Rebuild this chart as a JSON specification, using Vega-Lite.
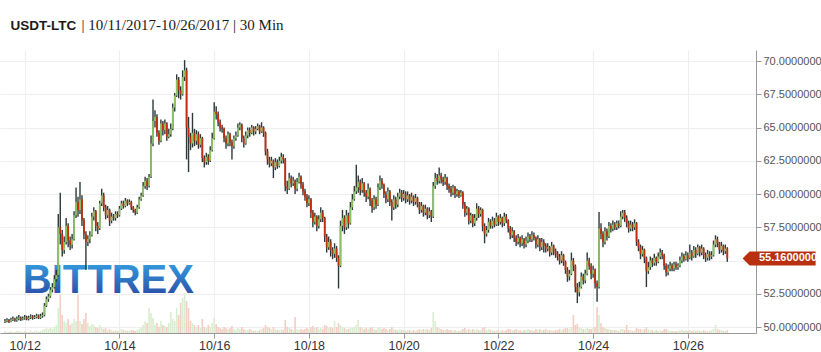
{
"$schema":"https://vega.github.io/schema/vega-lite/v6.json",
"width":756,"height":283,
"autosize":"none",
"padding":{"left":0,"top":50,"right":65,"bottom":19},
"background":"#ffffff",
"config":{"view":{"stroke":null},"axis":{"labelFont":"Liberation Sans","titleFont":"Liberation Sans"}},
"datasets":{"k":[
{"t":"2017-10-11 14:00","o":50.4,"h":50.6,"l":50.3,"c":50.45,"v":2},
{"t":"2017-10-11 15:00","o":50.45,"h":50.65,"l":50.35,"c":50.5,"v":1},
{"t":"2017-10-11 16:00","o":50.5,"h":50.6,"l":50.3,"c":50.42,"v":1},
{"t":"2017-10-11 17:00","o":50.42,"h":50.7,"l":50.35,"c":50.55,"v":2},
{"t":"2017-10-11 18:00","o":50.55,"h":50.8,"l":50.45,"c":50.6,"v":1},
{"t":"2017-10-11 19:00","o":50.6,"h":50.7,"l":50.4,"c":50.5,"v":1},
{"t":"2017-10-11 20:00","o":50.5,"h":50.8,"l":50.4,"c":50.62,"v":2},
{"t":"2017-10-11 21:00","o":50.62,"h":50.9,"l":50.5,"c":50.7,"v":2},
{"t":"2017-10-11 22:00","o":50.7,"h":50.8,"l":50.45,"c":50.58,"v":1},
{"t":"2017-10-11 23:00","o":50.58,"h":50.8,"l":50.5,"c":50.65,"v":1},
{"t":"2017-10-12 00:00","o":50.65,"h":50.9,"l":50.55,"c":50.72,"v":2},
{"t":"2017-10-12 01:00","o":50.72,"h":50.85,"l":50.5,"c":50.6,"v":1},
{"t":"2017-10-12 02:00","o":50.6,"h":50.85,"l":50.5,"c":50.7,"v":1},
{"t":"2017-10-12 03:00","o":50.7,"h":50.95,"l":50.6,"c":50.78,"v":2},
{"t":"2017-10-12 04:00","o":50.78,"h":50.9,"l":50.55,"c":50.68,"v":1},
{"t":"2017-10-12 05:00","o":50.68,"h":50.9,"l":50.6,"c":50.75,"v":2},
{"t":"2017-10-12 06:00","o":50.75,"h":51.0,"l":50.65,"c":50.85,"v":2},
{"t":"2017-10-12 07:00","o":50.85,"h":50.95,"l":50.6,"c":50.7,"v":1},
{"t":"2017-10-12 08:00","o":50.7,"h":51.0,"l":50.6,"c":50.82,"v":2},
{"t":"2017-10-12 09:00","o":50.82,"h":51.1,"l":50.7,"c":50.9,"v":3},
{"t":"2017-10-12 10:00","o":50.9,"h":51.8,"l":50.8,"c":51.6,"v":4},
{"t":"2017-10-12 11:00","o":51.6,"h":52.3,"l":51.5,"c":52.1,"v":5},
{"t":"2017-10-12 12:00","o":52.1,"h":52.5,"l":51.9,"c":52.3,"v":4},
{"t":"2017-10-12 13:00","o":52.3,"h":53.0,"l":52.2,"c":52.8,"v":5},
{"t":"2017-10-12 14:00","o":52.8,"h":53.3,"l":52.6,"c":53.0,"v":4},
{"t":"2017-10-12 15:00","o":53.0,"h":53.9,"l":52.9,"c":53.6,"v":6},
{"t":"2017-10-12 16:00","o":53.6,"h":54.3,"l":53.4,"c":53.9,"v":8},
{"t":"2017-10-12 17:00","o":53.9,"h":58.5,"l":53.8,"c":57.5,"v":25},
{"t":"2017-10-12 18:00","o":57.5,"h":60.1,"l":56.2,"c":57.0,"v":38},
{"t":"2017-10-12 19:00","o":57.0,"h":57.3,"l":55.3,"c":55.8,"v":18},
{"t":"2017-10-12 20:00","o":55.8,"h":56.8,"l":55.5,"c":56.4,"v":12},
{"t":"2017-10-12 21:00","o":56.4,"h":58.2,"l":56.2,"c":57.6,"v":10},
{"t":"2017-10-12 22:00","o":57.6,"h":57.8,"l":56.0,"c":56.5,"v":14},
{"t":"2017-10-12 23:00","o":56.5,"h":56.8,"l":55.8,"c":56.2,"v":8},
{"t":"2017-10-13 00:00","o":56.2,"h":57.0,"l":55.9,"c":56.6,"v":10},
{"t":"2017-10-13 01:00","o":56.6,"h":58.7,"l":56.5,"c":58.4,"v":14},
{"t":"2017-10-13 02:00","o":58.4,"h":60.5,"l":58.2,"c":59.4,"v":12},
{"t":"2017-10-13 03:00","o":59.4,"h":59.8,"l":58.3,"c":58.8,"v":38},
{"t":"2017-10-13 04:00","o":58.8,"h":60.9,"l":58.5,"c":59.6,"v":12},
{"t":"2017-10-13 05:00","o":59.6,"h":59.9,"l":57.6,"c":58.0,"v":9},
{"t":"2017-10-13 06:00","o":58.0,"h":58.2,"l":56.6,"c":57.0,"v":14},
{"t":"2017-10-13 07:00","o":57.0,"h":57.2,"l":54.3,"c":56.4,"v":20},
{"t":"2017-10-13 08:00","o":56.4,"h":56.9,"l":56.1,"c":56.6,"v":10},
{"t":"2017-10-13 09:00","o":56.6,"h":57.2,"l":56.3,"c":56.9,"v":7},
{"t":"2017-10-13 10:00","o":56.9,"h":58.6,"l":56.8,"c":58.3,"v":9},
{"t":"2017-10-13 11:00","o":58.3,"h":59.0,"l":58.0,"c":58.7,"v":8},
{"t":"2017-10-13 12:00","o":58.7,"h":58.8,"l":57.2,"c":57.6,"v":6},
{"t":"2017-10-13 13:00","o":57.6,"h":57.9,"l":57.0,"c":57.4,"v":5},
{"t":"2017-10-13 14:00","o":57.4,"h":59.5,"l":57.3,"c":59.3,"v":8},
{"t":"2017-10-13 15:00","o":59.3,"h":60.4,"l":59.1,"c":59.9,"v":6},
{"t":"2017-10-13 16:00","o":59.9,"h":60.1,"l":58.7,"c":59.0,"v":4},
{"t":"2017-10-13 17:00","o":59.0,"h":59.2,"l":58.1,"c":58.4,"v":5},
{"t":"2017-10-13 18:00","o":58.4,"h":59.1,"l":58.2,"c":58.8,"v":3},
{"t":"2017-10-13 19:00","o":58.8,"h":58.9,"l":57.6,"c":58.0,"v":4},
{"t":"2017-10-13 20:00","o":58.0,"h":58.6,"l":57.8,"c":58.3,"v":3},
{"t":"2017-10-13 21:00","o":58.3,"h":58.5,"l":58.0,"c":58.2,"v":2},
{"t":"2017-10-13 22:00","o":58.2,"h":58.7,"l":58.0,"c":58.5,"v":3},
{"t":"2017-10-13 23:00","o":58.5,"h":58.7,"l":58.2,"c":58.4,"v":2},
{"t":"2017-10-14 00:00","o":58.4,"h":59.1,"l":58.3,"c":58.9,"v":3},
{"t":"2017-10-14 01:00","o":58.9,"h":59.5,"l":58.8,"c":59.3,"v":4},
{"t":"2017-10-14 02:00","o":59.3,"h":59.5,"l":58.9,"c":59.1,"v":3},
{"t":"2017-10-14 03:00","o":59.1,"h":59.7,"l":59.0,"c":59.5,"v":3},
{"t":"2017-10-14 04:00","o":59.5,"h":59.6,"l":59.1,"c":59.3,"v":2},
{"t":"2017-10-14 05:00","o":59.3,"h":59.6,"l":59.2,"c":59.4,"v":2},
{"t":"2017-10-14 06:00","o":59.4,"h":59.5,"l":58.8,"c":59.0,"v":3},
{"t":"2017-10-14 07:00","o":59.0,"h":59.1,"l":58.6,"c":58.8,"v":3},
{"t":"2017-10-14 08:00","o":58.8,"h":58.9,"l":58.4,"c":58.6,"v":2},
{"t":"2017-10-14 09:00","o":58.6,"h":59.2,"l":58.5,"c":59.0,"v":3},
{"t":"2017-10-14 10:00","o":59.0,"h":59.8,"l":58.9,"c":59.6,"v":4},
{"t":"2017-10-14 11:00","o":59.6,"h":60.1,"l":59.5,"c":59.9,"v":5},
{"t":"2017-10-14 12:00","o":59.9,"h":60.9,"l":59.8,"c":60.6,"v":8},
{"t":"2017-10-14 13:00","o":60.6,"h":61.3,"l":60.4,"c":61.0,"v":12},
{"t":"2017-10-14 14:00","o":61.0,"h":61.2,"l":60.3,"c":60.6,"v":10},
{"t":"2017-10-14 15:00","o":60.6,"h":61.5,"l":60.5,"c":61.3,"v":25},
{"t":"2017-10-14 16:00","o":61.3,"h":64.4,"l":61.2,"c":63.8,"v":20},
{"t":"2017-10-14 17:00","o":63.8,"h":67.1,"l":63.6,"c":65.5,"v":15},
{"t":"2017-10-14 18:00","o":65.5,"h":66.3,"l":65.0,"c":65.8,"v":8},
{"t":"2017-10-14 19:00","o":65.8,"h":66.0,"l":64.3,"c":64.6,"v":10},
{"t":"2017-10-14 20:00","o":64.6,"h":64.8,"l":63.7,"c":64.0,"v":6},
{"t":"2017-10-14 21:00","o":64.0,"h":65.6,"l":63.9,"c":65.3,"v":12},
{"t":"2017-10-14 22:00","o":65.3,"h":65.5,"l":64.4,"c":64.8,"v":8},
{"t":"2017-10-14 23:00","o":64.8,"h":65.6,"l":64.5,"c":65.3,"v":7},
{"t":"2017-10-15 00:00","o":65.3,"h":65.4,"l":64.0,"c":64.3,"v":6},
{"t":"2017-10-15 01:00","o":64.3,"h":64.9,"l":64.2,"c":64.5,"v":10},
{"t":"2017-10-15 02:00","o":64.5,"h":65.3,"l":64.3,"c":64.9,"v":21},
{"t":"2017-10-15 03:00","o":64.9,"h":66.8,"l":64.8,"c":66.5,"v":14},
{"t":"2017-10-15 04:00","o":66.5,"h":67.6,"l":66.2,"c":67.4,"v":12},
{"t":"2017-10-15 05:00","o":67.4,"h":69.0,"l":67.3,"c":68.6,"v":25},
{"t":"2017-10-15 06:00","o":68.6,"h":68.8,"l":67.2,"c":67.8,"v":18},
{"t":"2017-10-15 07:00","o":67.8,"h":68.1,"l":67.1,"c":67.5,"v":30},
{"t":"2017-10-15 08:00","o":67.5,"h":69.3,"l":67.4,"c":68.8,"v":35},
{"t":"2017-10-15 09:00","o":68.8,"h":70.07,"l":68.5,"c":69.3,"v":40},
{"t":"2017-10-15 10:00","o":69.3,"h":69.5,"l":62.6,"c":65.0,"v":32},
{"t":"2017-10-15 11:00","o":65.0,"h":65.8,"l":61.65,"c":64.3,"v":25},
{"t":"2017-10-15 12:00","o":64.3,"h":64.6,"l":63.3,"c":63.8,"v":12},
{"t":"2017-10-15 13:00","o":63.8,"h":66.1,"l":63.5,"c":64.6,"v":10},
{"t":"2017-10-15 14:00","o":64.6,"h":64.9,"l":63.6,"c":64.0,"v":8},
{"t":"2017-10-15 15:00","o":64.0,"h":64.8,"l":63.7,"c":64.5,"v":6},
{"t":"2017-10-15 16:00","o":64.5,"h":64.7,"l":63.4,"c":63.7,"v":8},
{"t":"2017-10-15 17:00","o":63.7,"h":64.5,"l":63.5,"c":64.2,"v":5},
{"t":"2017-10-15 18:00","o":64.2,"h":64.3,"l":62.4,"c":62.7,"v":14},
{"t":"2017-10-15 19:00","o":62.7,"h":62.9,"l":62.0,"c":62.4,"v":6},
{"t":"2017-10-15 20:00","o":62.4,"h":63.1,"l":62.2,"c":62.8,"v":5},
{"t":"2017-10-15 21:00","o":62.8,"h":63.0,"l":62.2,"c":62.5,"v":8},
{"t":"2017-10-15 22:00","o":62.5,"h":63.6,"l":62.4,"c":63.3,"v":6},
{"t":"2017-10-15 23:00","o":63.3,"h":64.6,"l":63.2,"c":64.2,"v":10},
{"t":"2017-10-16 00:00","o":64.2,"h":66.9,"l":64.1,"c":66.2,"v":15},
{"t":"2017-10-16 01:00","o":66.2,"h":66.6,"l":65.6,"c":66.0,"v":9},
{"t":"2017-10-16 02:00","o":66.0,"h":66.2,"l":65.1,"c":65.4,"v":6},
{"t":"2017-10-16 03:00","o":65.4,"h":65.6,"l":64.7,"c":65.0,"v":5},
{"t":"2017-10-16 04:00","o":65.0,"h":65.2,"l":64.6,"c":64.9,"v":4},
{"t":"2017-10-16 05:00","o":64.9,"h":65.0,"l":63.9,"c":64.2,"v":6},
{"t":"2017-10-16 06:00","o":64.2,"h":64.4,"l":63.4,"c":63.8,"v":5},
{"t":"2017-10-16 07:00","o":63.8,"h":64.7,"l":63.6,"c":64.5,"v":4},
{"t":"2017-10-16 08:00","o":64.5,"h":64.6,"l":63.6,"c":63.9,"v":5},
{"t":"2017-10-16 09:00","o":63.9,"h":64.1,"l":62.6,"c":63.6,"v":7},
{"t":"2017-10-16 10:00","o":63.6,"h":64.4,"l":63.4,"c":64.2,"v":4},
{"t":"2017-10-16 11:00","o":64.2,"h":64.7,"l":64.0,"c":64.4,"v":3},
{"t":"2017-10-16 12:00","o":64.4,"h":65.3,"l":64.3,"c":65.0,"v":5},
{"t":"2017-10-16 13:00","o":65.0,"h":65.4,"l":64.8,"c":65.2,"v":4},
{"t":"2017-10-16 14:00","o":65.2,"h":65.3,"l":63.9,"c":64.2,"v":6},
{"t":"2017-10-16 15:00","o":64.2,"h":64.4,"l":63.5,"c":63.8,"v":4},
{"t":"2017-10-16 16:00","o":63.8,"h":64.7,"l":63.7,"c":64.4,"v":3},
{"t":"2017-10-16 17:00","o":64.4,"h":65.0,"l":64.2,"c":64.8,"v":3},
{"t":"2017-10-16 18:00","o":64.8,"h":65.0,"l":64.3,"c":64.6,"v":4},
{"t":"2017-10-16 19:00","o":64.6,"h":65.2,"l":64.5,"c":65.0,"v":3},
{"t":"2017-10-16 20:00","o":65.0,"h":65.1,"l":64.4,"c":64.7,"v":2},
{"t":"2017-10-16 21:00","o":64.7,"h":65.1,"l":64.5,"c":64.9,"v":3},
{"t":"2017-10-16 22:00","o":64.9,"h":65.3,"l":64.8,"c":65.1,"v":2},
{"t":"2017-10-16 23:00","o":65.1,"h":65.2,"l":64.5,"c":64.7,"v":3},
{"t":"2017-10-17 00:00","o":64.7,"h":65.4,"l":64.6,"c":65.0,"v":4},
{"t":"2017-10-17 01:00","o":65.0,"h":65.1,"l":64.3,"c":64.6,"v":5},
{"t":"2017-10-17 02:00","o":64.6,"h":64.7,"l":62.9,"c":63.2,"v":8},
{"t":"2017-10-17 03:00","o":63.2,"h":63.4,"l":62.2,"c":62.6,"v":6},
{"t":"2017-10-17 04:00","o":62.6,"h":62.8,"l":62.0,"c":62.3,"v":5},
{"t":"2017-10-17 05:00","o":62.3,"h":62.8,"l":62.1,"c":62.5,"v":4},
{"t":"2017-10-17 06:00","o":62.5,"h":62.6,"l":61.2,"c":62.0,"v":6},
{"t":"2017-10-17 07:00","o":62.0,"h":62.7,"l":61.8,"c":62.4,"v":4},
{"t":"2017-10-17 08:00","o":62.4,"h":62.6,"l":61.9,"c":62.1,"v":3},
{"t":"2017-10-17 09:00","o":62.1,"h":62.8,"l":62.0,"c":62.5,"v":3},
{"t":"2017-10-17 10:00","o":62.5,"h":63.1,"l":62.3,"c":62.8,"v":4},
{"t":"2017-10-17 11:00","o":62.8,"h":63.0,"l":62.3,"c":62.6,"v":3},
{"t":"2017-10-17 12:00","o":62.6,"h":62.7,"l":60.2,"c":60.6,"v":13},
{"t":"2017-10-17 13:00","o":60.6,"h":61.0,"l":60.0,"c":60.4,"v":6},
{"t":"2017-10-17 14:00","o":60.4,"h":61.6,"l":60.3,"c":61.2,"v":5},
{"t":"2017-10-17 15:00","o":61.2,"h":61.4,"l":60.5,"c":60.8,"v":4},
{"t":"2017-10-17 16:00","o":60.8,"h":61.3,"l":60.6,"c":61.0,"v":3},
{"t":"2017-10-17 17:00","o":61.0,"h":61.1,"l":60.0,"c":60.4,"v":16},
{"t":"2017-10-17 18:00","o":60.4,"h":61.2,"l":60.2,"c":60.9,"v":4},
{"t":"2017-10-17 19:00","o":60.9,"h":61.6,"l":60.8,"c":61.3,"v":3},
{"t":"2017-10-17 20:00","o":61.3,"h":61.4,"l":60.4,"c":60.7,"v":4},
{"t":"2017-10-17 21:00","o":60.7,"h":60.9,"l":59.9,"c":60.2,"v":3},
{"t":"2017-10-17 22:00","o":60.2,"h":60.4,"l":59.5,"c":59.8,"v":4},
{"t":"2017-10-17 23:00","o":59.8,"h":60.0,"l":59.0,"c":59.3,"v":5},
{"t":"2017-10-18 00:00","o":59.3,"h":59.9,"l":59.1,"c":59.6,"v":4},
{"t":"2017-10-18 01:00","o":59.6,"h":59.7,"l":58.2,"c":58.6,"v":6},
{"t":"2017-10-18 02:00","o":58.6,"h":58.8,"l":57.5,"c":57.9,"v":7},
{"t":"2017-10-18 03:00","o":57.9,"h":58.6,"l":57.7,"c":58.3,"v":5},
{"t":"2017-10-18 04:00","o":58.3,"h":58.4,"l":57.2,"c":57.6,"v":6},
{"t":"2017-10-18 05:00","o":57.6,"h":58.4,"l":57.4,"c":58.1,"v":4},
{"t":"2017-10-18 06:00","o":58.1,"h":59.0,"l":57.9,"c":58.6,"v":5},
{"t":"2017-10-18 07:00","o":58.6,"h":58.8,"l":57.9,"c":58.2,"v":4},
{"t":"2017-10-18 08:00","o":58.2,"h":58.3,"l":56.4,"c":56.8,"v":8},
{"t":"2017-10-18 09:00","o":56.8,"h":57.0,"l":55.6,"c":56.0,"v":7},
{"t":"2017-10-18 10:00","o":56.0,"h":56.8,"l":55.8,"c":56.4,"v":5},
{"t":"2017-10-18 11:00","o":56.4,"h":56.6,"l":55.3,"c":55.8,"v":6},
{"t":"2017-10-18 12:00","o":55.8,"h":56.0,"l":55.1,"c":55.5,"v":5},
{"t":"2017-10-18 13:00","o":55.5,"h":56.3,"l":55.2,"c":55.9,"v":12},
{"t":"2017-10-18 14:00","o":55.9,"h":56.1,"l":54.9,"c":55.2,"v":6},
{"t":"2017-10-18 15:00","o":55.2,"h":55.4,"l":52.9,"c":54.6,"v":10},
{"t":"2017-10-18 16:00","o":54.6,"h":58.0,"l":54.5,"c":57.6,"v":8},
{"t":"2017-10-18 17:00","o":57.6,"h":58.8,"l":57.2,"c":58.2,"v":6},
{"t":"2017-10-18 18:00","o":58.2,"h":58.4,"l":57.0,"c":57.5,"v":5},
{"t":"2017-10-18 19:00","o":57.5,"h":58.8,"l":57.3,"c":58.4,"v":4},
{"t":"2017-10-18 20:00","o":58.4,"h":58.6,"l":57.4,"c":57.8,"v":4},
{"t":"2017-10-18 21:00","o":57.8,"h":59.4,"l":57.7,"c":59.0,"v":5},
{"t":"2017-10-18 22:00","o":59.0,"h":60.0,"l":58.8,"c":59.6,"v":5},
{"t":"2017-10-18 23:00","o":59.6,"h":60.6,"l":59.5,"c":60.2,"v":6},
{"t":"2017-10-19 00:00","o":60.2,"h":62.2,"l":60.0,"c":60.5,"v":8},
{"t":"2017-10-19 01:00","o":60.5,"h":61.4,"l":60.1,"c":60.9,"v":13},
{"t":"2017-10-19 02:00","o":60.9,"h":61.1,"l":59.9,"c":60.3,"v":6},
{"t":"2017-10-19 03:00","o":60.3,"h":61.2,"l":60.1,"c":60.8,"v":5},
{"t":"2017-10-19 04:00","o":60.8,"h":60.9,"l":59.8,"c":60.1,"v":4},
{"t":"2017-10-19 05:00","o":60.1,"h":60.3,"l":59.4,"c":59.8,"v":5},
{"t":"2017-10-19 06:00","o":59.8,"h":60.8,"l":59.6,"c":60.4,"v":4},
{"t":"2017-10-19 07:00","o":60.4,"h":60.5,"l":59.1,"c":59.5,"v":5},
{"t":"2017-10-19 08:00","o":59.5,"h":59.7,"l":58.6,"c":59.0,"v":6},
{"t":"2017-10-19 09:00","o":59.0,"h":59.9,"l":58.8,"c":59.6,"v":4},
{"t":"2017-10-19 10:00","o":59.6,"h":59.8,"l":58.9,"c":59.2,"v":3},
{"t":"2017-10-19 11:00","o":59.2,"h":60.8,"l":59.1,"c":60.5,"v":5},
{"t":"2017-10-19 12:00","o":60.5,"h":61.4,"l":60.3,"c":61.0,"v":6},
{"t":"2017-10-19 13:00","o":61.0,"h":61.2,"l":60.4,"c":60.7,"v":4},
{"t":"2017-10-19 14:00","o":60.7,"h":60.8,"l":59.7,"c":60.0,"v":5},
{"t":"2017-10-19 15:00","o":60.0,"h":60.2,"l":59.3,"c":59.6,"v":4},
{"t":"2017-10-19 16:00","o":59.6,"h":60.5,"l":59.4,"c":60.2,"v":3},
{"t":"2017-10-19 17:00","o":60.2,"h":60.3,"l":59.1,"c":59.4,"v":4},
{"t":"2017-10-19 18:00","o":59.4,"h":59.6,"l":58.0,"c":59.0,"v":6},
{"t":"2017-10-19 19:00","o":59.0,"h":59.9,"l":58.8,"c":59.6,"v":4},
{"t":"2017-10-19 20:00","o":59.6,"h":59.8,"l":58.9,"c":59.2,"v":3},
{"t":"2017-10-19 21:00","o":59.2,"h":60.1,"l":59.0,"c":59.8,"v":3},
{"t":"2017-10-19 22:00","o":59.8,"h":60.4,"l":59.6,"c":60.1,"v":4},
{"t":"2017-10-19 23:00","o":60.1,"h":60.3,"l":59.4,"c":59.7,"v":3},
{"t":"2017-10-20 00:00","o":59.7,"h":60.3,"l":59.5,"c":60.0,"v":3},
{"t":"2017-10-20 01:00","o":60.0,"h":60.2,"l":59.3,"c":59.6,"v":2},
{"t":"2017-10-20 02:00","o":59.6,"h":60.2,"l":59.4,"c":59.9,"v":3},
{"t":"2017-10-20 03:00","o":59.9,"h":60.0,"l":59.2,"c":59.5,"v":3},
{"t":"2017-10-20 04:00","o":59.5,"h":60.1,"l":59.3,"c":59.8,"v":2},
{"t":"2017-10-20 05:00","o":59.8,"h":59.9,"l":59.1,"c":59.4,"v":3},
{"t":"2017-10-20 06:00","o":59.4,"h":60.0,"l":59.2,"c":59.7,"v":2},
{"t":"2017-10-20 07:00","o":59.7,"h":59.8,"l":59.0,"c":59.3,"v":3},
{"t":"2017-10-20 08:00","o":59.3,"h":59.4,"l":58.5,"c":58.8,"v":4},
{"t":"2017-10-20 09:00","o":58.8,"h":59.4,"l":58.6,"c":59.1,"v":3},
{"t":"2017-10-20 10:00","o":59.1,"h":59.2,"l":58.3,"c":58.6,"v":4},
{"t":"2017-10-20 11:00","o":58.6,"h":59.2,"l":58.4,"c":58.9,"v":3},
{"t":"2017-10-20 12:00","o":58.9,"h":59.0,"l":58.1,"c":58.4,"v":4},
{"t":"2017-10-20 13:00","o":58.4,"h":59.0,"l":58.2,"c":58.7,"v":3},
{"t":"2017-10-20 14:00","o":58.7,"h":58.8,"l":57.9,"c":58.3,"v":5},
{"t":"2017-10-20 15:00","o":58.3,"h":60.9,"l":58.2,"c":60.6,"v":21},
{"t":"2017-10-20 16:00","o":60.6,"h":61.6,"l":60.4,"c":61.2,"v":12},
{"t":"2017-10-20 17:00","o":61.2,"h":61.5,"l":60.7,"c":61.0,"v":6},
{"t":"2017-10-20 18:00","o":61.0,"h":62.0,"l":60.8,"c":61.4,"v":5},
{"t":"2017-10-20 19:00","o":61.4,"h":61.6,"l":60.8,"c":61.1,"v":4},
{"t":"2017-10-20 20:00","o":61.1,"h":61.3,"l":60.6,"c":60.9,"v":3},
{"t":"2017-10-20 21:00","o":60.9,"h":61.5,"l":60.7,"c":61.2,"v":3},
{"t":"2017-10-20 22:00","o":61.2,"h":61.3,"l":60.3,"c":60.6,"v":4},
{"t":"2017-10-20 23:00","o":60.6,"h":60.8,"l":60.1,"c":60.4,"v":3},
{"t":"2017-10-21 00:00","o":60.4,"h":60.6,"l":59.8,"c":60.1,"v":3},
{"t":"2017-10-21 01:00","o":60.1,"h":60.7,"l":59.9,"c":60.5,"v":2},
{"t":"2017-10-21 02:00","o":60.5,"h":60.6,"l":59.7,"c":60.0,"v":3},
{"t":"2017-10-21 03:00","o":60.0,"h":60.4,"l":59.8,"c":60.2,"v":2},
{"t":"2017-10-21 04:00","o":60.2,"h":60.3,"l":59.7,"c":59.9,"v":2},
{"t":"2017-10-21 05:00","o":59.9,"h":60.3,"l":59.8,"c":60.1,"v":3},
{"t":"2017-10-21 06:00","o":60.1,"h":60.2,"l":58.9,"c":59.2,"v":4},
{"t":"2017-10-21 07:00","o":59.2,"h":59.4,"l":58.3,"c":58.6,"v":5},
{"t":"2017-10-21 08:00","o":58.6,"h":59.1,"l":58.4,"c":58.9,"v":3},
{"t":"2017-10-21 09:00","o":58.9,"h":59.0,"l":57.7,"c":58.0,"v":4},
{"t":"2017-10-21 10:00","o":58.0,"h":58.6,"l":57.8,"c":58.4,"v":3},
{"t":"2017-10-21 11:00","o":58.4,"h":58.5,"l":57.5,"c":57.8,"v":4},
{"t":"2017-10-21 12:00","o":57.8,"h":58.5,"l":57.6,"c":58.2,"v":3},
{"t":"2017-10-21 13:00","o":58.2,"h":59.3,"l":58.0,"c":58.9,"v":4},
{"t":"2017-10-21 14:00","o":58.9,"h":59.1,"l":58.2,"c":58.5,"v":3},
{"t":"2017-10-21 15:00","o":58.5,"h":59.0,"l":58.3,"c":58.8,"v":3},
{"t":"2017-10-21 16:00","o":58.8,"h":58.9,"l":57.2,"c":57.6,"v":5},
{"t":"2017-10-21 17:00","o":57.6,"h":57.8,"l":56.3,"c":57.0,"v":6},
{"t":"2017-10-21 18:00","o":57.0,"h":57.6,"l":56.8,"c":57.3,"v":3},
{"t":"2017-10-21 19:00","o":57.3,"h":58.2,"l":57.1,"c":57.9,"v":4},
{"t":"2017-10-21 20:00","o":57.9,"h":58.1,"l":57.4,"c":57.6,"v":3},
{"t":"2017-10-21 21:00","o":57.6,"h":58.3,"l":57.4,"c":58.0,"v":3},
{"t":"2017-10-21 22:00","o":58.0,"h":58.2,"l":57.5,"c":57.7,"v":2},
{"t":"2017-10-21 23:00","o":57.7,"h":58.6,"l":57.6,"c":58.3,"v":3},
{"t":"2017-10-22 00:00","o":58.3,"h":58.4,"l":57.6,"c":57.9,"v":3},
{"t":"2017-10-22 01:00","o":57.9,"h":58.5,"l":57.7,"c":58.2,"v":2},
{"t":"2017-10-22 02:00","o":58.2,"h":58.3,"l":57.5,"c":57.8,"v":3},
{"t":"2017-10-22 03:00","o":57.8,"h":58.6,"l":57.6,"c":58.3,"v":2},
{"t":"2017-10-22 04:00","o":58.3,"h":58.5,"l":57.8,"c":58.0,"v":3},
{"t":"2017-10-22 05:00","o":58.0,"h":58.1,"l":57.1,"c":57.4,"v":4},
{"t":"2017-10-22 06:00","o":57.4,"h":57.6,"l":56.6,"c":56.9,"v":4},
{"t":"2017-10-22 07:00","o":56.9,"h":57.5,"l":56.7,"c":57.2,"v":3},
{"t":"2017-10-22 08:00","o":57.2,"h":57.3,"l":56.4,"c":56.7,"v":3},
{"t":"2017-10-22 09:00","o":56.7,"h":56.9,"l":56.1,"c":56.4,"v":4},
{"t":"2017-10-22 10:00","o":56.4,"h":57.0,"l":56.2,"c":56.7,"v":3},
{"t":"2017-10-22 11:00","o":56.7,"h":56.8,"l":56.0,"c":56.3,"v":3},
{"t":"2017-10-22 12:00","o":56.3,"h":56.9,"l":56.1,"c":56.6,"v":2},
{"t":"2017-10-22 13:00","o":56.6,"h":56.7,"l":55.9,"c":56.2,"v":3},
{"t":"2017-10-22 14:00","o":56.2,"h":56.8,"l":56.0,"c":56.5,"v":3},
{"t":"2017-10-22 15:00","o":56.5,"h":57.1,"l":56.3,"c":56.8,"v":4},
{"t":"2017-10-22 16:00","o":56.8,"h":57.0,"l":56.4,"c":56.6,"v":3},
{"t":"2017-10-22 17:00","o":56.6,"h":57.2,"l":56.4,"c":56.9,"v":3},
{"t":"2017-10-22 18:00","o":56.9,"h":57.1,"l":56.5,"c":56.7,"v":2},
{"t":"2017-10-22 19:00","o":56.7,"h":56.8,"l":55.9,"c":56.2,"v":4},
{"t":"2017-10-22 20:00","o":56.2,"h":56.9,"l":56.0,"c":56.6,"v":3},
{"t":"2017-10-22 21:00","o":56.6,"h":56.7,"l":55.7,"c":56.0,"v":4},
{"t":"2017-10-22 22:00","o":56.0,"h":56.7,"l":55.8,"c":56.4,"v":3},
{"t":"2017-10-22 23:00","o":56.4,"h":56.6,"l":55.6,"c":56.1,"v":3},
{"t":"2017-10-23 00:00","o":56.1,"h":56.3,"l":55.6,"c":55.9,"v":4},
{"t":"2017-10-23 01:00","o":55.9,"h":56.3,"l":55.7,"c":56.0,"v":3},
{"t":"2017-10-23 02:00","o":56.0,"h":56.1,"l":55.3,"c":55.6,"v":3},
{"t":"2017-10-23 03:00","o":55.6,"h":56.4,"l":55.4,"c":56.1,"v":3},
{"t":"2017-10-23 04:00","o":56.1,"h":56.2,"l":55.4,"c":55.7,"v":2},
{"t":"2017-10-23 05:00","o":55.7,"h":55.9,"l":55.2,"c":55.5,"v":3},
{"t":"2017-10-23 06:00","o":55.5,"h":55.7,"l":55.0,"c":55.3,"v":3},
{"t":"2017-10-23 07:00","o":55.3,"h":55.5,"l":54.7,"c":55.0,"v":4},
{"t":"2017-10-23 08:00","o":55.0,"h":55.7,"l":54.8,"c":55.4,"v":3},
{"t":"2017-10-23 09:00","o":55.4,"h":55.5,"l":54.6,"c":54.9,"v":4},
{"t":"2017-10-23 10:00","o":54.9,"h":55.0,"l":54.0,"c":54.3,"v":5},
{"t":"2017-10-23 11:00","o":54.3,"h":54.5,"l":53.4,"c":53.8,"v":5},
{"t":"2017-10-23 12:00","o":53.8,"h":54.3,"l":53.5,"c":54.0,"v":4},
{"t":"2017-10-23 13:00","o":54.0,"h":55.6,"l":53.9,"c":55.0,"v":6},
{"t":"2017-10-23 14:00","o":55.0,"h":55.2,"l":54.2,"c":54.6,"v":18},
{"t":"2017-10-23 15:00","o":54.6,"h":54.7,"l":52.6,"c":53.0,"v":8},
{"t":"2017-10-23 16:00","o":53.0,"h":53.3,"l":51.8,"c":52.6,"v":9},
{"t":"2017-10-23 17:00","o":52.6,"h":53.4,"l":52.3,"c":53.0,"v":6},
{"t":"2017-10-23 18:00","o":53.0,"h":54.1,"l":52.9,"c":53.8,"v":5},
{"t":"2017-10-23 19:00","o":53.8,"h":54.0,"l":53.2,"c":53.5,"v":4},
{"t":"2017-10-23 20:00","o":53.5,"h":54.3,"l":53.3,"c":54.0,"v":4},
{"t":"2017-10-23 21:00","o":54.0,"h":55.6,"l":53.9,"c":55.0,"v":5},
{"t":"2017-10-23 22:00","o":55.0,"h":55.2,"l":54.3,"c":54.6,"v":4},
{"t":"2017-10-23 23:00","o":54.6,"h":54.8,"l":53.6,"c":54.0,"v":4},
{"t":"2017-10-24 00:00","o":54.0,"h":54.6,"l":53.7,"c":54.3,"v":5},
{"t":"2017-10-24 01:00","o":54.3,"h":54.4,"l":52.9,"c":53.3,"v":6},
{"t":"2017-10-24 02:00","o":53.3,"h":53.5,"l":51.9,"c":53.0,"v":26},
{"t":"2017-10-24 03:00","o":53.0,"h":58.65,"l":52.9,"c":57.4,"v":18},
{"t":"2017-10-24 04:00","o":57.4,"h":57.8,"l":56.6,"c":57.0,"v":10},
{"t":"2017-10-24 05:00","o":57.0,"h":57.2,"l":56.0,"c":56.4,"v":6},
{"t":"2017-10-24 06:00","o":56.4,"h":57.5,"l":56.2,"c":57.2,"v":5},
{"t":"2017-10-24 07:00","o":57.2,"h":57.4,"l":56.5,"c":56.8,"v":4},
{"t":"2017-10-24 08:00","o":56.8,"h":57.9,"l":56.7,"c":57.6,"v":4},
{"t":"2017-10-24 09:00","o":57.6,"h":57.8,"l":57.1,"c":57.4,"v":3},
{"t":"2017-10-24 10:00","o":57.4,"h":58.0,"l":57.2,"c":57.7,"v":3},
{"t":"2017-10-24 11:00","o":57.7,"h":57.9,"l":57.3,"c":57.5,"v":3},
{"t":"2017-10-24 12:00","o":57.5,"h":58.0,"l":57.3,"c":57.8,"v":3},
{"t":"2017-10-24 13:00","o":57.8,"h":58.0,"l":57.4,"c":57.6,"v":2},
{"t":"2017-10-24 14:00","o":57.6,"h":58.7,"l":57.5,"c":58.3,"v":4},
{"t":"2017-10-24 15:00","o":58.3,"h":58.8,"l":58.1,"c":58.6,"v":4},
{"t":"2017-10-24 16:00","o":58.6,"h":58.8,"l":57.9,"c":58.2,"v":3},
{"t":"2017-10-24 17:00","o":58.2,"h":58.4,"l":57.5,"c":57.8,"v":8},
{"t":"2017-10-24 18:00","o":57.8,"h":58.0,"l":57.1,"c":57.4,"v":3},
{"t":"2017-10-24 19:00","o":57.4,"h":58.0,"l":57.2,"c":57.7,"v":3},
{"t":"2017-10-24 20:00","o":57.7,"h":57.9,"l":57.2,"c":57.5,"v":2},
{"t":"2017-10-24 21:00","o":57.5,"h":58.1,"l":57.3,"c":57.8,"v":3},
{"t":"2017-10-24 22:00","o":57.8,"h":57.9,"l":56.1,"c":56.4,"v":5},
{"t":"2017-10-24 23:00","o":56.4,"h":56.6,"l":55.7,"c":56.0,"v":4},
{"t":"2017-10-25 00:00","o":56.0,"h":56.2,"l":55.1,"c":55.5,"v":4},
{"t":"2017-10-25 01:00","o":55.5,"h":56.1,"l":55.3,"c":55.8,"v":3},
{"t":"2017-10-25 02:00","o":55.8,"h":55.9,"l":54.8,"c":55.2,"v":4},
{"t":"2017-10-25 03:00","o":55.2,"h":55.3,"l":53.0,"c":54.2,"v":6},
{"t":"2017-10-25 04:00","o":54.2,"h":54.9,"l":54.0,"c":54.5,"v":4},
{"t":"2017-10-25 05:00","o":54.5,"h":55.3,"l":54.3,"c":55.0,"v":3},
{"t":"2017-10-25 06:00","o":55.0,"h":55.2,"l":54.5,"c":54.8,"v":3},
{"t":"2017-10-25 07:00","o":54.8,"h":55.5,"l":54.6,"c":55.2,"v":2},
{"t":"2017-10-25 08:00","o":55.2,"h":55.3,"l":54.6,"c":54.9,"v":3},
{"t":"2017-10-25 09:00","o":54.9,"h":55.6,"l":54.8,"c":55.3,"v":2},
{"t":"2017-10-25 10:00","o":55.3,"h":55.9,"l":55.1,"c":55.6,"v":3},
{"t":"2017-10-25 11:00","o":55.6,"h":55.8,"l":55.1,"c":55.4,"v":2},
{"t":"2017-10-25 12:00","o":55.4,"h":55.5,"l":54.3,"c":54.6,"v":4},
{"t":"2017-10-25 13:00","o":54.6,"h":54.8,"l":53.8,"c":54.1,"v":4},
{"t":"2017-10-25 14:00","o":54.1,"h":54.7,"l":53.9,"c":54.4,"v":3},
{"t":"2017-10-25 15:00","o":54.4,"h":54.9,"l":54.2,"c":54.6,"v":2},
{"t":"2017-10-25 16:00","o":54.6,"h":54.8,"l":54.2,"c":54.4,"v":2},
{"t":"2017-10-25 17:00","o":54.4,"h":54.9,"l":54.2,"c":54.7,"v":2},
{"t":"2017-10-25 18:00","o":54.7,"h":54.9,"l":54.3,"c":54.5,"v":2},
{"t":"2017-10-25 19:00","o":54.5,"h":54.8,"l":54.3,"c":54.6,"v":2},
{"t":"2017-10-25 20:00","o":54.6,"h":55.3,"l":54.5,"c":55.0,"v":3},
{"t":"2017-10-25 21:00","o":55.0,"h":55.6,"l":54.8,"c":55.3,"v":3},
{"t":"2017-10-25 22:00","o":55.3,"h":55.5,"l":54.9,"c":55.1,"v":2},
{"t":"2017-10-25 23:00","o":55.1,"h":55.7,"l":55.0,"c":55.4,"v":3},
{"t":"2017-10-26 00:00","o":55.4,"h":55.6,"l":54.9,"c":55.2,"v":2},
{"t":"2017-10-26 01:00","o":55.2,"h":56.2,"l":55.1,"c":55.6,"v":3},
{"t":"2017-10-26 02:00","o":55.6,"h":55.8,"l":55.0,"c":55.3,"v":2},
{"t":"2017-10-26 03:00","o":55.3,"h":56.1,"l":55.2,"c":55.8,"v":3},
{"t":"2017-10-26 04:00","o":55.8,"h":56.0,"l":55.2,"c":55.5,"v":2},
{"t":"2017-10-26 05:00","o":55.5,"h":56.2,"l":55.4,"c":56.0,"v":3},
{"t":"2017-10-26 06:00","o":56.0,"h":56.1,"l":55.3,"c":55.6,"v":2},
{"t":"2017-10-26 07:00","o":55.6,"h":56.2,"l":55.4,"c":55.9,"v":2},
{"t":"2017-10-26 08:00","o":55.9,"h":56.0,"l":55.1,"c":55.4,"v":3},
{"t":"2017-10-26 09:00","o":55.4,"h":55.6,"l":54.9,"c":55.2,"v":2},
{"t":"2017-10-26 10:00","o":55.2,"h":55.8,"l":55.0,"c":55.5,"v":2},
{"t":"2017-10-26 11:00","o":55.5,"h":55.7,"l":55.0,"c":55.3,"v":2},
{"t":"2017-10-26 12:00","o":55.3,"h":55.7,"l":55.1,"c":55.4,"v":3},
{"t":"2017-10-26 13:00","o":55.4,"h":56.5,"l":55.3,"c":56.2,"v":4},
{"t":"2017-10-26 14:00","o":56.2,"h":56.9,"l":56.0,"c":56.6,"v":8},
{"t":"2017-10-26 15:00","o":56.6,"h":56.8,"l":56.0,"c":56.3,"v":4},
{"t":"2017-10-26 16:00","o":56.3,"h":56.4,"l":55.5,"c":55.8,"v":3},
{"t":"2017-10-26 17:00","o":55.8,"h":56.4,"l":55.6,"c":56.1,"v":3},
{"t":"2017-10-26 18:00","o":56.1,"h":56.2,"l":55.4,"c":55.7,"v":2},
{"t":"2017-10-26 19:00","o":55.7,"h":56.2,"l":55.5,"c":55.9,"v":2},
{"t":"2017-10-26 20:00","o":55.9,"h":56.0,"l":54.9,"c":55.16,"v":3}
]},
"layer":[
 {"data":{"name":"k"},
  "mark":{"type":"bar","width":1.6},
  "encoding":{
   "x":{"field":"t","type":"temporal","scale":{"domain":[{"year":2017,"month":10,"date":11,"hours":14},{"year":2017,"month":10,"date":27,"hours":8}]}},
   "y":{"field":"v","type":"quantitative","scale":{"domain":[0,283],"nice":false},"axis":{"orient":"left","labels":false,"ticks":false,"domain":false,"grid":false,"title":"USDT-LTC","titleX":10,"titleY":-21,"titleAngle":0,"titleAlign":"left","titleBaseline":"alphabetic","titleFont":"Liberation Sans","titleFontSize":13.5,"titleFontWeight":"bold","titleColor":"#1a1a1a"}},
   "color":{"condition":{"test":"datum.c >= datum.o","value":"#d9edcf"},"value":"#f4cdc3"}
  }},
 {"layer":[
   {"data":{"values":[{"name":"BITTREX"}]},
    "mark":{"type":"text","font":"Liberation Sans","fontSize":40,"fontWeight":"bold","align":"left","baseline":"alphabetic",
      "fill":{"gradient":"linear","x1":0,"y1":0,"x2":0,"y2":1,"stops":[{"offset":0,"color":"#36a9e8"},{"offset":1,"color":"#2942a0"}]}},
    "encoding":{
     "x":{"datum":{"year":2017,"month":10,"date":11,"hours":23},"type":"temporal"},
     "y":{"datum":52.56,"type":"quantitative"},
     "text":{"field":"name"}
    }},
   {"data":{"name":"k"},
    "mark":{"type":"rule","color":"#2d3838","strokeWidth":1.4},
    "encoding":{
     "x":{"field":"t","type":"temporal","scale":{"domain":[{"year":2017,"month":10,"date":11,"hours":14},{"year":2017,"month":10,"date":27,"hours":8}]},
       "axis":{"orient":"bottom","values":[{"year":2017,"month":10,"date":12},{"year":2017,"month":10,"date":14},{"year":2017,"month":10,"date":16},{"year":2017,"month":10,"date":18},{"year":2017,"month":10,"date":20},{"year":2017,"month":10,"date":22},{"year":2017,"month":10,"date":24},{"year":2017,"month":10,"date":26}],
         "tickCount":30,"format":"%m/%d","labelFont":"Liberation Sans","labelFontSize":12.5,"labelColor":"#333333","labelPadding":1,"labelFlush":false,"labelOverlap":false,
         "tickColor":"#999999","tickSize":5,"domainColor":"#999999","grid":true,"gridColor":"#eeeeee",
         "title":"| 10/11/2017-10/26/2017 | 30 Min","titleX":81,"titleY":-304,"titleAlign":"left","titleBaseline":"alphabetic","titleFont":"Liberation Serif","titleFontSize":15,"titleFontWeight":"normal","titleColor":"#1a1a1a"}},
     "y":{"field":"l","type":"quantitative","scale":{"domain":[49.55,70.83],"nice":false,"zero":false},
       "axis":{"orient":"right","values":[50,52.5,55,57.5,60,62.5,65,67.5,70],"tickCount":30,"format":".8f","labelExpr":"datum.value == 55 ? '' : datum.label","title":null,"labelFont":"Liberation Sans","labelFontSize":11,"labelColor":"#555555","labelPadding":2,"labelOverlap":false,"labelFlush":false,"tickColor":"#999999","tickSize":5,"domainColor":"#999999","grid":true,"gridColor":"#eeeeee"}},
     "y2":{"field":"h"}
    }},
   {"data":{"name":"k"},
    "mark":{"type":"bar","width":1.8},
    "encoding":{
     "x":{"field":"t","type":"temporal","scale":{"domain":[{"year":2017,"month":10,"date":11,"hours":14},{"year":2017,"month":10,"date":27,"hours":8}]}},
     "y":{"field":"o","type":"quantitative","scale":{"domain":[49.55,70.83],"nice":false,"zero":false}},
     "y2":{"field":"c"},
     "color":{"condition":{"test":"datum.c >= datum.o","value":"#8cc264"},"value":"#c0300e"}
    }},
   {"data":{"values":[{"p":55.16}]},
    "mark":{"type":"point","shape":"M-1,0L-0.808,-0.192L1,-0.192L1,0.192L-0.808,0.192Z","size":5329,"filled":true,"color":"#b9300f","opacity":1,"strokeWidth":0},
    "encoding":{
     "x":{"datum":{"year":2017,"month":10,"date":27,"hours":22,"minutes":15},"type":"temporal"},
     "y":{"field":"p","type":"quantitative"}
    }},
   {"data":{"values":[{"p":55.16,"label":"55.16000000"}]},
    "mark":{"type":"text","font":"Liberation Sans","fontSize":11,"fontWeight":"bold","align":"left","baseline":"middle","color":"#ffffff"},
    "encoding":{
     "x":{"datum":{"year":2017,"month":10,"date":27,"hours":12},"type":"temporal"},
     "y":{"field":"p","type":"quantitative"},
     "text":{"field":"label"}
    }}
 ]}
],
"resolve":{"scale":{"y":"independent"}}
}
